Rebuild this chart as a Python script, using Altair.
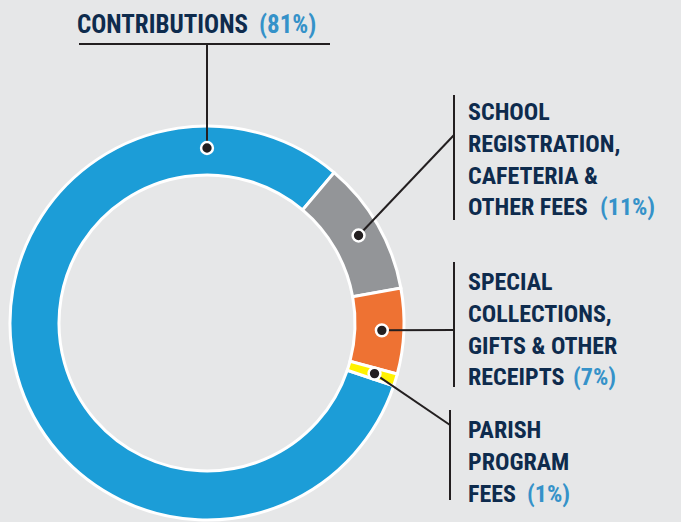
import math
import altair as alt
import pandas as pd

# ---------------- data ----------------
categories = [
    "Contributions",
    "School registration, cafeteria & other fees",
    "Special collections, gifts & other receipts",
    "Parish program fees",
]
values = [81, 11, 7, 1]
label_lines = [
    ["CONTRIBUTIONS"],
    ["SCHOOL", "REGISTRATION,", "CAFETERIA &", "OTHER FEES"],
    ["SPECIAL", "COLLECTIONS,", "GIFTS & OTHER", "RECEIPTS"],
    ["PARISH", "PROGRAM", "FEES"],
]
pct_labels = ["(81%)", "(11%)", "(7%)", "(1%)"]

# ---------------- style / layout ----------------
slice_colors = ["#1c9dd7", "#939598", "#ee7233", "#fff200"]
BG = "#e6e7e8"
NAVY = "#0e2b4d"
PCT_BLUE = "#3592c9"
INK = "#231f20"
FONT = "Roboto Condensed, DejaVu Sans Condensed, sans-serif"
W, H = 681, 522
CX, CY = 207, 323
R_OUT, R_IN = 197, 148
R_DOT = 175
START_DEG = 108.6
DOT_ANGLE_OVERRIDE = {0: 0.0}
LABEL_X = [77, 468, 468, 468]
LABEL_Y0 = [33, 120, 290, 438]
LINE_H = 31.8
PCT_X = [259, 600, 573, 527]
FONT_SIZE = [25, 24, 24, 24]
# leader bars (x1, y1, x2, y2) and connector anchors (x, y)
BARS = [(79, 44, 330, 44), (454, 95, 454, 220), (454, 262, 454, 387), (450, 410, 450, 500)]
ANCHORS = [(207, 44), (454, 135), (454, 330), (450, 425)]

# ---------------- derived tables ----------------
slices = pd.DataFrame({"category": categories, "value": values, "idx": range(len(values))})

total = sum(values)
dots, rules = [], []
cum = 0
for i, v in enumerate(values):
    mid = START_DEG + (cum + v / 2) / total * 360
    cum += v
    ang = DOT_ANGLE_OVERRIDE.get(i, mid)
    dx = CX + R_DOT * math.sin(math.radians(ang))
    dy = CY - R_DOT * math.cos(math.radians(ang))
    dots.append({"category": categories[i], "x": dx, "y": dy})
    bx1, by1, bx2, by2 = BARS[i]
    rules.append({"x": bx1, "y": by1, "x2": bx2, "y2": by2})
    ax, ay = ANCHORS[i]
    rules.append({"x": dx, "y": dy, "x2": ax, "y2": ay})
dots = pd.DataFrame(dots)
rules = pd.DataFrame(rules)

name_rows, pct_rows = [], []
for i, lines in enumerate(label_lines):
    for j, t in enumerate(lines):
        name_rows.append({"x": LABEL_X[i], "y": LABEL_Y0[i] + j * LINE_H, "text": t, "fs": FONT_SIZE[i]})
    pct_rows.append({"x": PCT_X[i], "y": LABEL_Y0[i] + (len(lines) - 1) * LINE_H,
                     "text": pct_labels[i], "fs": FONT_SIZE[i]})
names = pd.DataFrame(name_rows)
pcts = pd.DataFrame(pct_rows)

xs = alt.Scale(domain=[0, W], range=[0, W])
ys = alt.Scale(domain=[0, H], range=[0, H])

start = math.radians(START_DEG)
donut = alt.Chart(slices).mark_arc(
    outerRadius=R_OUT, innerRadius=R_IN, stroke="white", strokeWidth=3
).encode(
    theta=alt.Theta("value:Q", stack=True,
                    scale=alt.Scale(domain=[0, total], range=[start, start + 2 * math.pi])),
    color=alt.Color("category:N", scale=alt.Scale(domain=categories, range=slice_colors), legend=None),
    order=alt.Order("idx:Q"),
    x=alt.value(CX),
    y=alt.value(CY),
)

lines_layer = alt.Chart(rules).mark_rule(color=INK, strokeWidth=2).encode(
    x=alt.X("x:Q", scale=xs, axis=None),
    y=alt.Y("y:Q", scale=ys, axis=None),
    x2="x2:Q",
    y2="y2:Q",
)

dot_layer = alt.Chart(dots).mark_circle(
    size=140, fill=INK, stroke="white", strokeWidth=2.5, opacity=1
).encode(
    x=alt.X("x:Q", scale=xs, axis=None),
    y=alt.Y("y:Q", scale=ys, axis=None),
)

name_layer = alt.Chart(names).mark_text(
    align="left", baseline="alphabetic", font=FONT, fontWeight="bold", color=NAVY
).encode(
    x=alt.X("x:Q", scale=xs, axis=None),
    y=alt.Y("y:Q", scale=ys, axis=None),
    text="text:N",
    size=alt.Size("fs:Q", scale=None, legend=None),
)

pct_layer = alt.Chart(pcts).mark_text(
    align="left", baseline="alphabetic", font=FONT, fontWeight="bold", color=PCT_BLUE
).encode(
    x=alt.X("x:Q", scale=xs, axis=None),
    y=alt.Y("y:Q", scale=ys, axis=None),
    text="text:N",
    size=alt.Size("fs:Q", scale=None, legend=None),
)

chart = alt.layer(donut, lines_layer, dot_layer, name_layer, pct_layer).properties(
    width=W, height=H, padding=0, autosize=alt.AutoSizeParams(type="none"), background=BG
).configure_view(stroke=None)

chart.save("out.html", embed_options={"renderer": "svg", "actions": False})
